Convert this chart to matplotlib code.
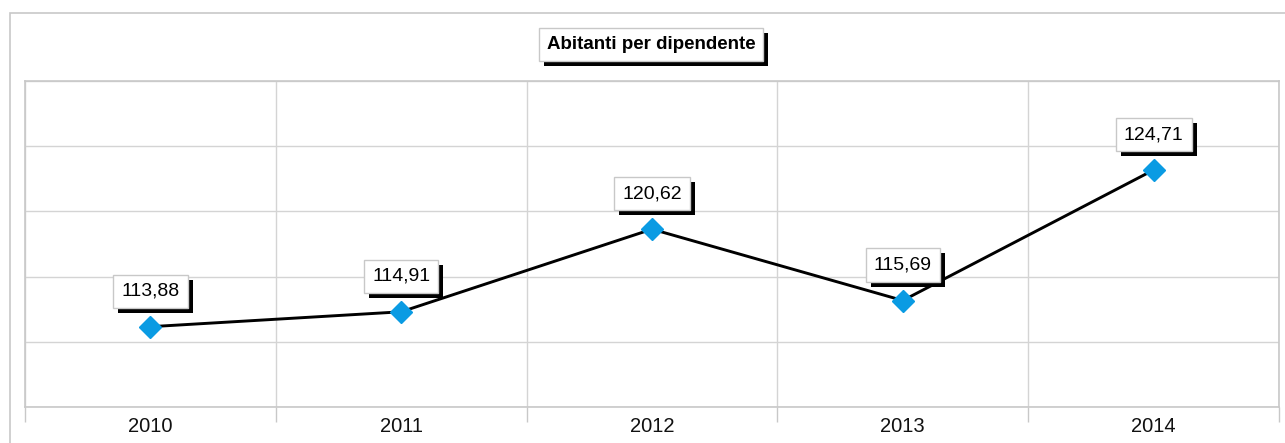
import matplotlib
matplotlib.use('Agg')
import matplotlib.pyplot as plt
import matplotlib.patheffects as pe
from matplotlib.patches import Rectangle
from matplotlib.ticker import FixedLocator
import numpy as np

plt.rcParams['font.family'] = ['Liberation Sans', 'DejaVu Sans']

# dati
anni = ['2010', '2011', '2012', '2013', '2014']
valori = [113.88, 114.91, 120.62, 115.69, 124.71]
etichette = ['113,88', '114,91', '120,62', '115,69', '124,71']
titolo = 'Abitanti per dipendente'

W, H = 1285, 443
fig = plt.figure(figsize=(W / 100, H / 100), dpi=100)

# cornice esterna
fig.patches.append(Rectangle((9.5 / W, -0.05), 1.2, (H - 12.5) / H + 0.05,
                             transform=fig.transFigure, fill=False,
                             edgecolor='#c8c8c8', linewidth=1.2))

ax = fig.add_axes([25 / W, (H - 407) / H, (1279 - 25) / W, (407 - 81) / H])
x = np.arange(len(anni))
ax.set_xlim(-0.5, len(anni) - 0.5)
ax.set_ylim(108.33, 130.86)

# griglia
ax.set_yticks(np.linspace(108.33, 130.86, 6))
ax.set_yticklabels([])
ax.tick_params(axis='y', length=0)
ax.xaxis.set_minor_locator(FixedLocator(np.arange(-0.5, len(anni), 1)))
ax.set_xticks(x)
ax.set_xticklabels(anni, fontsize=14.5, color='#111111')
ax.tick_params(axis='x', which='major', length=0, pad=7)
ax.tick_params(axis='x', which='minor', length=11, width=1, color='#c8c8c8', direction='out')
ax.grid(axis='y', color='#d4d4d4', linewidth=1)
ax.grid(axis='x', which='minor', color='#d4d4d4', linewidth=1)
for s in ax.spines.values():
    s.set_color('#c8c8c8')
    s.set_linewidth(1.2)

ax.plot(x, valori, color='black', linewidth=2.1, marker='D', markersize=11.5,
        markerfacecolor='#0a9be3', markeredgecolor='#0a9be3', zorder=3)

# etichette con ombra
ombra = [pe.SimplePatchShadow(offset=(3.6, -3.6), shadow_rgbFace='black', alpha=1), pe.Normal()]

def box_label(xy, testo, coords, fontsize, weight='normal', offset=(0, 0)):
    t = ax.annotate(testo, xy=xy, xycoords=coords, xytext=offset,
                    textcoords='offset points', ha='center', va='center', fontsize=fontsize,
                    weight=weight, color='black',
                    bbox=dict(boxstyle='square,pad=0.42', facecolor='white', edgecolor='#c8c8c8', linewidth=1),
                    zorder=5, annotation_clip=False)
    t.get_bbox_patch().set_path_effects(ombra)

for xi, v, t in zip(x, valori, etichette):
    box_label((xi, v), t, 'data', 14, offset=(0, 25.5))

box_label((651 / W, 1 - 44.5 / H), titolo, 'figure fraction', 13.5, weight='bold')

fig.savefig('out.png', dpi=100, facecolor='white')
